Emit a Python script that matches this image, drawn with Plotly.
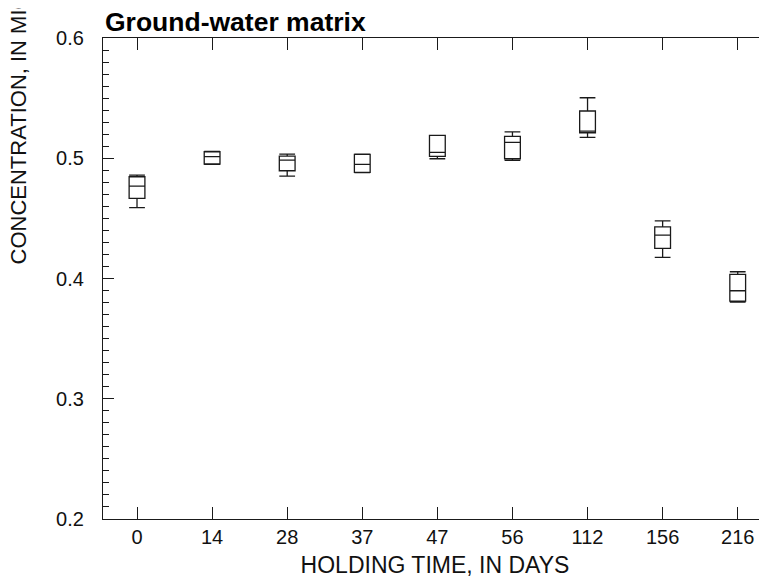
import plotly.graph_objects as go

# holding time categories (days)
dias = ["0", "14", "28", "37", "47", "56", "112", "156", "216"]

# box statistics (concentration)
superior = [0.4860, 0.5057, 0.5035, 0.5035, 0.5190, 0.5220, 0.5503, 0.4480, 0.4056]
q3 = [0.4846, 0.5054, 0.5018, 0.5033, 0.5190, 0.5182, 0.5393, 0.4430, 0.4034]
mediana = [0.4769, 0.5013, 0.4985, 0.4949, 0.5049, 0.5132, 0.5226, 0.4360, 0.3898]
q1 = [0.4667, 0.4952, 0.4896, 0.4883, 0.5016, 0.4996, 0.5212, 0.4250, 0.3812]
inferior = [0.4589, 0.4950, 0.4852, 0.4880, 0.4996, 0.4983, 0.5174, 0.4175, 0.3804]

y_ticks = [0.2, 0.3, 0.4, 0.5, 0.6]

negro = "#1a1a1a"
fuente = "Liberation Sans, Arial, sans-serif"

fig = go.Figure()
fig.add_trace(go.Box(x=dias, q1=q1, median=mediana, q3=q3,
                     lowerfence=inferior, upperfence=superior,
                     width=0.21, whiskerwidth=1,
                     line=dict(color=negro, width=1.3),
                     fillcolor="rgba(0,0,0,0)", hoverinfo="skip",
                     showlegend=False))
# empty trace so the right-hand tick axis gets drawn
fig.add_trace(go.Scatter(x=[], y=[], yaxis="y2", showlegend=False))

fig.update_layout(
    width=759, height=576, template=None,
    paper_bgcolor="white", plot_bgcolor="white",
    margin=dict(l=95, r=0, t=30, b=65),
    font=dict(family=fuente, size=20, color="#111"),
    xaxis=dict(type="category", range=[-0.453, 8.39],
               showline=True, linecolor=negro, linewidth=1.3, mirror="ticks",
               ticks="inside", ticklen=12, tickcolor=negro, tickwidth=1.3,
               ticklabelstandoff=0, showgrid=False, zeroline=False,
               title=dict(text="HOLDING TIME, IN DAYS", font=dict(size=23), standoff=9)),
    yaxis=dict(range=[0.2, 0.6], tickvals=y_ticks, tickformat=".1f",
               showline=True, linecolor=negro, linewidth=1.3,
               ticks="inside", ticklen=11, tickcolor=negro, tickwidth=1.3,
               minor=dict(dtick=0.01, ticks="inside", ticklen=6, tickcolor=negro, tickwidth=1.3),
               ticklabelstandoff=14, showgrid=False, zeroline=False),
    yaxis2=dict(range=[0.2, 0.6], tickvals=y_ticks, overlaying="y", side="right",
                showticklabels=False, ticks="inside", ticklen=5, tickcolor=negro,
                tickwidth=1.3, showline=False, showgrid=False, zeroline=False),
    annotations=[
        dict(text="<b>Ground-water matrix</b>", xref="paper", yref="paper",
             x=0.0, y=1, xanchor="left", yanchor="bottom", yshift=-1,
             showarrow=False, font=dict(size=26.5, color="#000")),
        dict(text="CONCENTRATION, IN MICROGRAMS PER LITER", textangle=-90,
             xref="paper", yref="paper", x=-0.128, y=0.525,
             xanchor="center", yanchor="bottom",
             showarrow=False, font=dict(size=22, color="#111")),
    ],
)

fig.write_html("out.html")
